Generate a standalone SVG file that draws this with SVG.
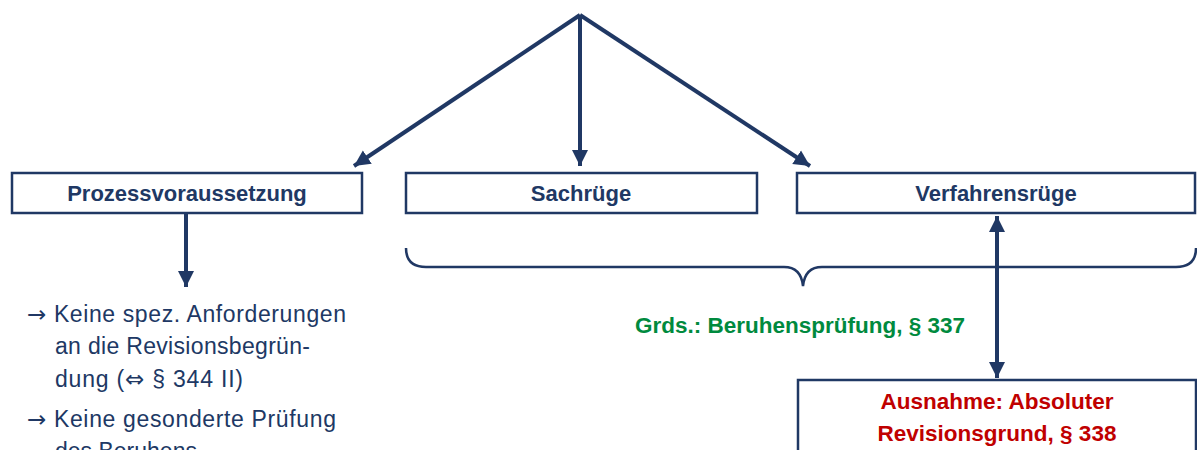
<svg xmlns="http://www.w3.org/2000/svg" width="1197" height="450" viewBox="0 0 1197 450">
<defs>
<marker id="ah" viewBox="0 0 10 10" refX="10" refY="5" markerWidth="16" markerHeight="17" markerUnits="userSpaceOnUse" orient="auto-start-reverse">
<path d="M0,0 L10,5 L0,10 z" fill="#203864"/>
</marker>
<style>
.box{fill:#fff;stroke:#203864;stroke-width:2.5}
.lbl{font-family:"Liberation Sans",Arial,sans-serif;font-weight:bold;font-size:22px;fill:#203864;text-anchor:middle}
.con{stroke:#203864;stroke-width:4;fill:none}
.txt{font-family:"Liberation Sans",Arial,sans-serif;font-size:23px;fill:#203864}
.sym{font-family:"DejaVu Sans",sans-serif}
.green{font-family:"Liberation Sans",Arial,sans-serif;font-weight:bold;font-size:22.5px;fill:#008A3E;text-anchor:middle}
.red{font-family:"Liberation Sans",Arial,sans-serif;font-weight:bold;font-size:22.5px;fill:#C00000;text-anchor:middle}
</style>
</defs>
<rect width="1197" height="450" fill="#fff"/>
<g id="connectors">
<line class="con" x1="580" y1="15" x2="354" y2="166" marker-end="url(#ah)"/>
<line class="con" x1="580" y1="15" x2="580" y2="166" marker-end="url(#ah)"/>
<line class="con" x1="580" y1="15" x2="810" y2="166" marker-end="url(#ah)"/>
<line class="con" x1="186" y1="214" x2="186" y2="287" marker-end="url(#ah)"/>
<line class="con" x1="997" y1="216" x2="997" y2="378" marker-start="url(#ah)" marker-end="url(#ah)"/>
<path d="M406,248 Q406,267 426,267 L784,267 Q801,267 803,286 Q805,267 822,267 L1176,267 Q1196,267 1196,248" fill="none" stroke="#203864" stroke-width="2.5"/>
</g>
<g id="n-prozess">
<rect class="box" x="12" y="173" width="350" height="40"/>
<text class="lbl" x="187" y="201">Prozessvoraussetzung</text>
</g>
<g id="n-sach">
<rect class="box" x="406" y="173" width="351" height="40"/>
<text class="lbl" x="581" y="201">Sachrüge</text>
</g>
<g id="n-verfahren">
<rect class="box" x="797" y="173" width="398" height="40"/>
<text class="lbl" x="996" y="201">Verfahrensrüge</text>
</g>
<g id="n-prozess-text">
<text class="txt" x="27" y="322" textLength="319"><tspan class="sym">→</tspan> Keine spez. Anforderungen</text>
<text class="txt" x="55" y="354" textLength="255">an die Revisionsbegrün-</text>
<text class="txt" x="55" y="387" textLength="188">dung (<tspan class="sym">⇔</tspan> § 344 II)</text>
<text class="txt" x="27" y="427" textLength="309"><tspan class="sym">→</tspan> Keine gesonderte Prüfung</text>
<text class="txt" x="55" y="459">des Beruhens</text>
</g>
<g id="n-grds">
<text class="green" x="800" y="333">Grds.: Beruhensprüfung, § 337</text>
</g>
<g id="n-ausnahme">
<rect class="box" x="798" y="380" width="398" height="90"/>
<text class="red" x="997" y="409">Ausnahme: Absoluter</text>
<text class="red" x="997" y="441">Revisionsgrund, § 338</text>
</g>
</svg>
